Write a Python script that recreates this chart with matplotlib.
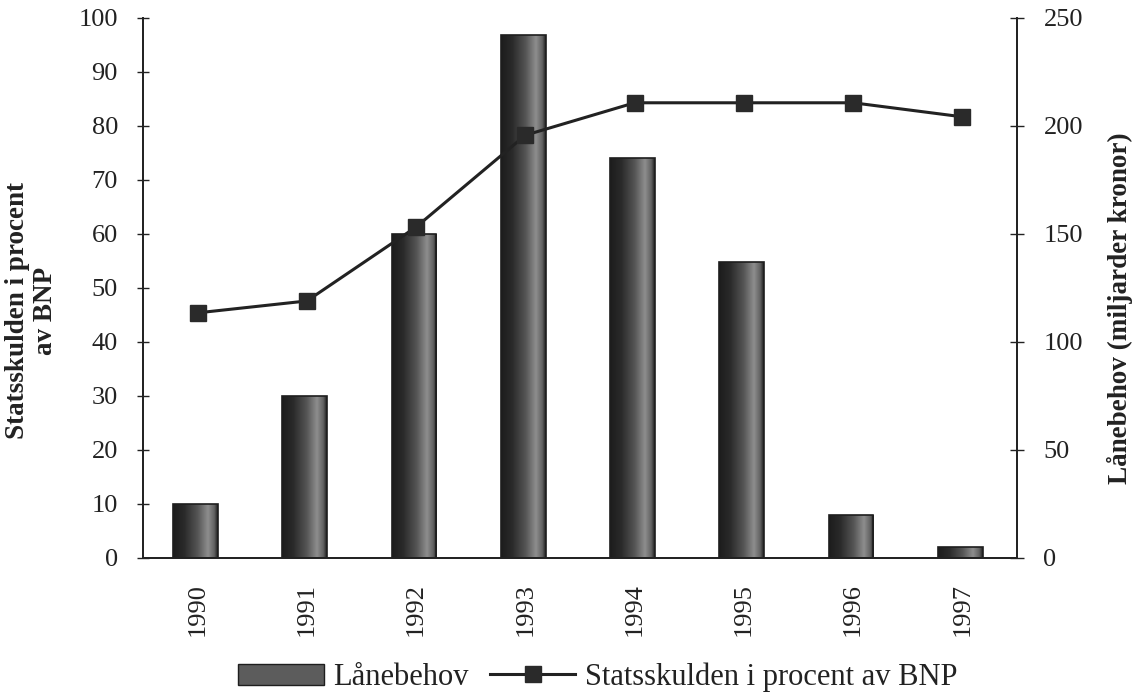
import numpy as np
import matplotlib
matplotlib.use("Agg")
import matplotlib.pyplot as plt
from matplotlib.colors import LinearSegmentedColormap
from matplotlib.patches import Patch
from matplotlib.lines import Line2D

years = ["1990", "1991", "1992", "1993", "1994", "1995", "1996", "1997"]
lanebehov = [25, 75, 150, 242, 185, 137, 20, 5]          # miljarder kronor (right axis)
statsskuld = [45.4, 47.6, 61.3, 78.3, 84.3, 84.3, 84.3, 81.7]  # procent av BNP (left axis)
left_ticks = [0, 10, 20, 30, 40, 50, 60, 70, 80, 90, 100]
right_ticks = [0, 50, 100, 150, 200, 250]

serif = ["Liberation Serif", "DejaVu Serif"]
plt.rcParams["font.family"] = serif

fig = plt.figure(figsize=(11.34, 6.95), dpi=100)
ax = fig.add_axes([143/1134, 1-558/695, (1017-143)/1134, (558-18)/695])
ax2 = ax.twinx()

x = np.arange(len(years))

# Bars on right axis
bars = ax2.bar(x - 0.02, lanebehov, width=0.41, color="none", edgecolor="#1e1e1e",
               linewidth=1.2, zorder=3)
cmap = LinearSegmentedColormap.from_list(
    "bar", [(0.0, "#1c1c1c"), (0.25, "#2a2a2a"), (0.55, "#555555"),
            (0.78, "#8e8e8e"), (0.92, "#626262"), (1.0, "#1c1c1c")])
grad = np.linspace(0, 1, 256).reshape(1, -1)
for b in bars:
    bx, by = b.get_x(), b.get_y()
    bw, bh = b.get_width(), b.get_height()
    im = ax2.imshow(grad, cmap=cmap, aspect="auto",
                    extent=(bx, bx + bw, by, by + bh), zorder=2,
                    interpolation="bilinear")
    im.set_clip_path(b)

ax2.set_ylim(0, 250)
ax2.set_xlim(-0.5, len(years) - 0.5)
ax2.set_yticks(right_ticks)
ax2.set_yticklabels([str(t) for t in right_ticks], fontsize=19, color="#222222")
ax2.tick_params(axis="y", direction="inout", length=10, width=1.0, pad=14,
                color="#222222")

# Line on left axis
ax.plot(x, statsskuld, color="#222222", linewidth=2.2, marker="s",
        markersize=12, markerfacecolor="#2a2a2a", markeredgecolor="#2a2a2a",
        zorder=5)
ax.set_ylim(0, 100)
ax.set_xlim(-0.5, len(years) - 0.5)
ax.set_yticks(left_ticks)
ax.set_yticklabels([str(t) for t in left_ticks], fontsize=19, color="#222222")
ax.tick_params(axis="y", direction="inout", length=8, width=1.0, pad=14,
               color="#222222")

ax.set_zorder(ax2.get_zorder() + 1)
ax.patch.set_visible(False)

# x axis: tick marks between categories, labels at centers
ax.set_xticks(np.arange(-0.5, len(years) + 0.5, 1.0))
ax.set_xticklabels([])
ax.tick_params(axis="x", direction="inout", length=8, width=1.0,
               color="#222222")
ax.set_xticks(x, minor=True)
ax.set_xticklabels(years, minor=True, rotation=90, fontsize=19,
                   color="#222222")
ax.tick_params(axis="x", which="minor", length=0, pad=18)
ax2.set_xticks([])

for a in (ax, ax2):
    a.spines["top"].set_visible(False)
    for s in ("left", "right", "bottom"):
        a.spines[s].set_color("#222222")
        a.spines[s].set_linewidth(1.3)

fig.text(0.028, 0.553, "Statsskulden i procent\nav BNP", rotation=90,
         ha="center", va="center", fontsize=19.5, fontweight="bold",
         color="#222222", linespacing=1.15)
fig.text(0.988, 0.556, "Lånebehov (miljarder kronor)", rotation=90,
         ha="center", va="center", fontsize=19.5, fontweight="bold",
         color="#222222")

handles = [Patch(facecolor="#5c5c5c", edgecolor="#1e1e1e", linewidth=1.0),
           Line2D([0], [0], color="#222222", linewidth=2.2, marker="s",
                  markersize=12, markerfacecolor="#2a2a2a",
                  markeredgecolor="#2a2a2a")]
fig.legend(handles, ["Lånebehov", "Statsskulden i procent av BNP"],
           loc="lower center", bbox_to_anchor=(0.527, -0.022), ncol=2,
           frameon=False, fontsize=22, handlelength=2.8, handleheight=0.7,
           handletextpad=0.3, columnspacing=0.7, borderpad=0.1,
           labelcolor="#222222")

fig.savefig("out.png", dpi=100)
